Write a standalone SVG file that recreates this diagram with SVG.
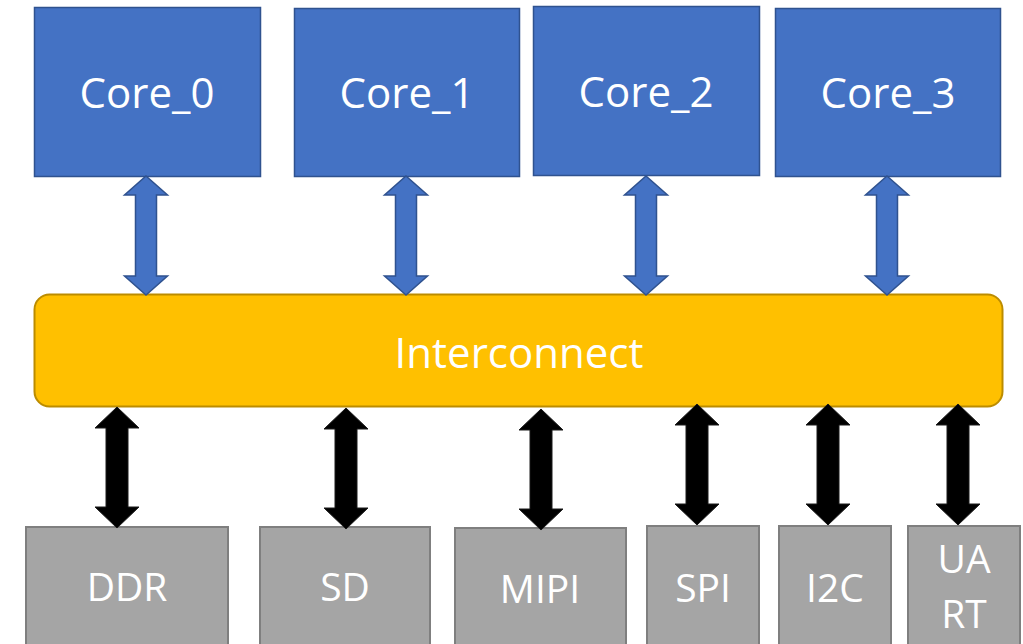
<svg xmlns="http://www.w3.org/2000/svg" xmlns:xlink="http://www.w3.org/1999/xlink" width="1023" height="644" viewBox="0 0 1023 644">
<style>
.core{fill:#4472C4;stroke:#2F528F;stroke-width:1.5}
.per{fill:#A5A5A5;stroke:#7F7F7F;stroke-width:2}
.bus{fill:#FFC000;stroke:#BC8C00;stroke-width:2}
.lbl{font-family:"Open Sans","Liberation Sans",sans-serif;fill:#FFFFFF;text-anchor:middle}
.big{font-size:42px}
.sm{font-size:39px}
.barrow{fill:#4472C4;stroke:#2F528F;stroke-width:1.5}
.karrow{fill:#000000;stroke:#1a1a1a;stroke-width:1}
</style>
<defs>
<path id="ba" d="M0,176 L21.5,195 L10.5,195 L10.5,276 L21.5,276 L0,295 L-21.5,276 L-10.5,276 L-10.5,195 L-21.5,195 Z"/>
<path id="ka" d="M0,406 L22,427 L11,427 L11,506 L22,506 L0,527 L-22,506 L-11,506 L-11,427 L-22,427 Z"/>
</defs>
<rect width="1023" height="644" fill="#FFFFFF"/>
<g id="core0"><rect class="core" x="34.5" y="7.5" width="226" height="169"/><text class="lbl big" x="147" y="108">Core_0</text></g>
<g id="core1"><rect class="core" x="294.5" y="8.5" width="225" height="168"/><text class="lbl big" x="407" y="108">Core_1</text></g>
<g id="core2"><rect class="core" x="533.5" y="6.5" width="226" height="169"/><text class="lbl big" x="646" y="107">Core_2</text></g>
<g id="core3"><rect class="core" x="775.5" y="8.5" width="225" height="168"/><text class="lbl big" x="888" y="108">Core_3</text></g>
<g id="interconnect"><rect class="bus" x="34.5" y="294.5" width="968" height="112" rx="15"/><text class="lbl big" x="519" y="368">Interconnect</text></g>
<g id="ddr"><rect class="per" x="26" y="527" width="202" height="130"/><text class="lbl sm" x="127" y="601">DDR</text></g>
<g id="sd"><rect class="per" x="260" y="527" width="170" height="130"/><text class="lbl sm" x="345" y="601">SD</text></g>
<g id="mipi"><rect class="per" x="455" y="528" width="171" height="130"/><text class="lbl sm" x="540" y="603">MIPI</text></g>
<g id="spi"><rect class="per" x="647" y="526" width="112" height="130"/><text class="lbl sm" x="703" y="602">SPI</text></g>
<g id="i2c"><rect class="per" x="779" y="526" width="112" height="130"/><text class="lbl sm" x="835" y="602">I2C</text></g>
<g id="uart"><rect class="per" x="908" y="526" width="112" height="130"/><text class="lbl sm" x="964" y="573">UA</text><text class="lbl sm" x="964" y="628">RT</text></g>
<g id="connectors">
<use xlink:href="#ba" class="barrow" transform="translate(146,0)"/>
<use xlink:href="#ba" class="barrow" transform="translate(406,0)"/>
<use xlink:href="#ba" class="barrow" transform="translate(646,0)"/>
<use xlink:href="#ba" class="barrow" transform="translate(887,0)"/>
<use xlink:href="#ka" class="karrow" transform="translate(117,1)"/>
<use xlink:href="#ka" class="karrow" transform="translate(346,2)"/>
<use xlink:href="#ka" class="karrow" transform="translate(541,3)"/>
<use xlink:href="#ka" class="karrow" transform="translate(697,-2)"/>
<use xlink:href="#ka" class="karrow" transform="translate(828,-2)"/>
<use xlink:href="#ka" class="karrow" transform="translate(958,-2)"/>
</g>
</svg>
